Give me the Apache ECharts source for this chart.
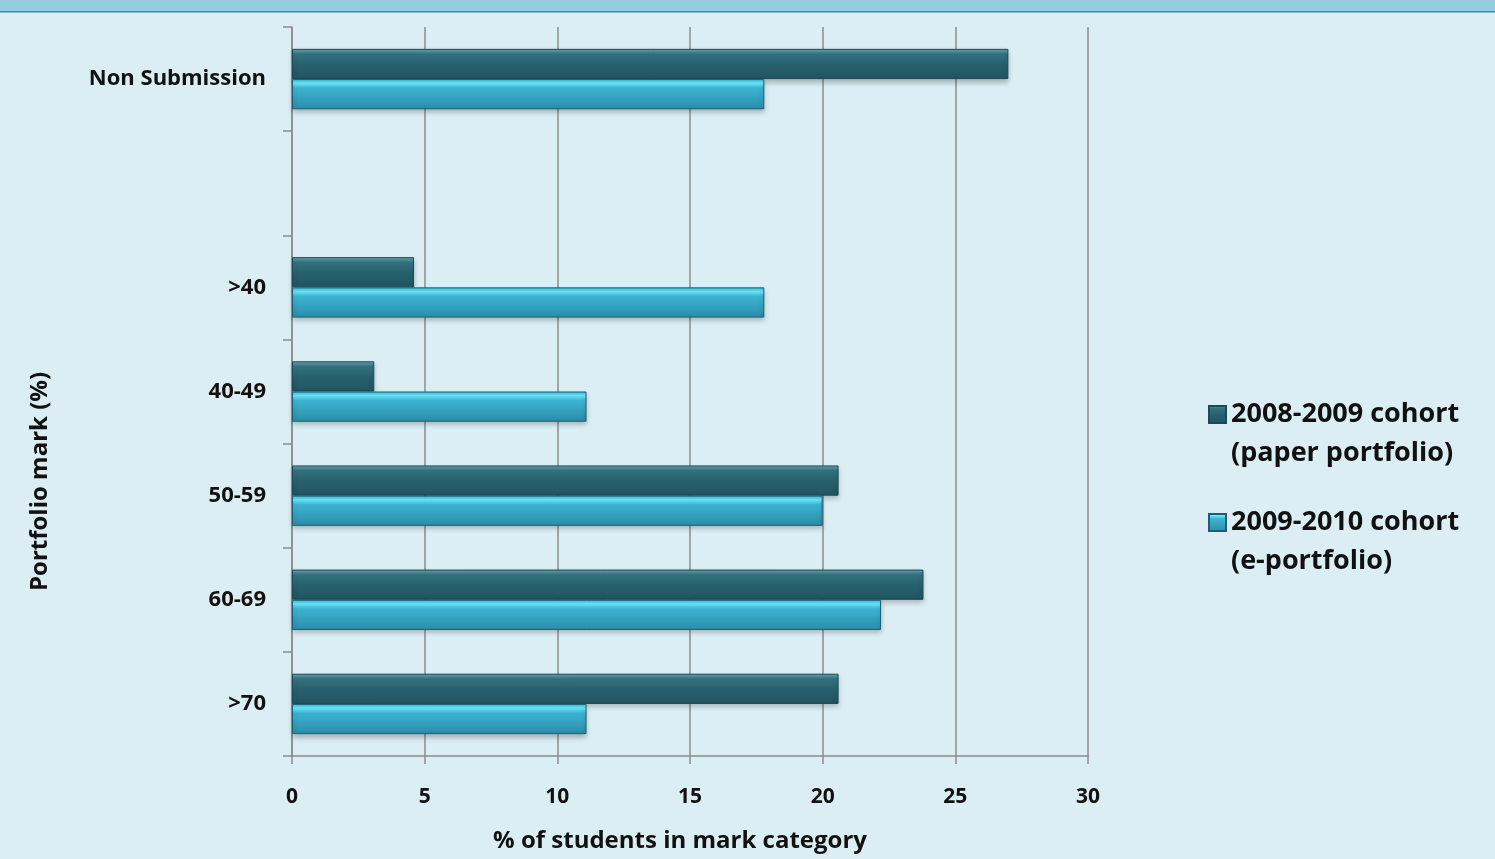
<!DOCTYPE html>
<html><head><meta charset="utf-8">
<script src="https://cdn.jsdelivr.net/npm/echarts@6/dist/echarts.min.js"></script>
<style>html,body{margin:0;padding:0;background:#dbeef4}#c{width:1495px;height:859px}</style>
</head><body><div id="c"></div>
<script>
const categories = ['>70', '60-69', '50-59', '40-49', '>40', '', 'Non Submission'];
const paper = [20.6, 23.8, 20.6, 3.1, 4.6, null, 27.0];
const eport = [11.1, 22.2, 20.0, 11.1, 17.8, null, 17.8];
const xTicks = [0, 5, 10, 15, 20, 25, 30];
const nameA = '2008-2009 cohort\n(paper portfolio)';
const nameB = '2009-2010 cohort\n(e-portfolio)';

const FONT = 'Open Sans';
const darkGrad = new echarts.graphic.LinearGradient(0, 0, 0, 1, [
  {offset: 0, color: '#6aa6b3'}, {offset: 0.18, color: '#34727f'},
  {offset: 0.5, color: '#27616d'}, {offset: 1, color: '#1f5561'}]);
const lightGrad = new echarts.graphic.LinearGradient(0, 0, 0, 1, [
  {offset: 0, color: '#3fb5d0'}, {offset: 0.14, color: '#6aeaff'},
  {offset: 0.3, color: '#3cb3d2'}, {offset: 1, color: '#2a8ca8'}]);

const chart = echarts.init(document.getElementById('c'));
const legendBase = {
  orient: 'vertical', left: 1203, itemWidth: 17, itemHeight: 17,
  icon: 'rect', selectedMode: false,
  formatter: n => ' \n' + n,
  textStyle: {fontFamily: FONT, fontWeight: 'bold', fontSize: 27, color: '#111', lineHeight: 39}
};
chart.setOption({
  backgroundColor: '#dbeef4',
  animation: false,
  graphic: [
    {type: 'rect', shape: {x: 0, y: 0, width: 1495, height: 11}, style: {fill: '#94cddf'}},
    {type: 'rect', shape: {x: 0, y: 11, width: 1495, height: 1.5}, style: {fill: '#3d8ea4'}}
  ],
  grid: {left: 292, right: 407, top: 27, bottom: 103},
  legend: [
    Object.assign({}, legendBase, {data: [nameA], top: 351}),
    Object.assign({}, legendBase, {data: [nameB], top: 459})
  ],
  xAxis: {
    type: 'value', min: 0, max: 30, interval: 5,
    name: '% of students in mark category', nameLocation: 'middle', nameGap: 73,
    nameTextStyle: {fontFamily: FONT, fontWeight: 'bold', fontSize: 24, color: '#111', padding: [0, 20, 0, 0]},
    axisLine: {show: true, lineStyle: {color: '#8c8c8c', width: 1.5}},
    axisTick: {show: true, length: 8, lineStyle: {color: '#8c8c8c', width: 1.5}},
    splitLine: {show: true, lineStyle: {color: '#8c8c8c', width: 1.5}},
    axisLabel: {margin: 31, fontFamily: FONT, fontWeight: 'bold', fontSize: 21, color: '#111',
      formatter: v => xTicks.includes(v) ? String(v) : ''}
  },
  yAxis: {
    type: 'category', data: categories,
    name: 'Portfolio mark (%)', nameLocation: 'middle', nameGap: 240, nameRotate: 90,
    nameTextStyle: {fontFamily: FONT, fontWeight: 'bold', fontSize: 24, color: '#111', padding: [0, 180, 0, 0]},
    axisLine: {show: true, lineStyle: {color: '#8c8c8c', width: 1.5}},
    axisTick: {show: true, length: 9, lineStyle: {color: '#8c8c8c', width: 1.5}},
    axisLabel: {margin: 26, fontFamily: FONT, fontWeight: 'bold', fontSize: 22, color: '#111'}
  },
  series: [
    {name: nameA, type: 'bar', data: paper, barGap: '0%', barCategoryGap: '42%',
      itemStyle: {color: darkGrad, borderColor: '#1b4a55', borderWidth: 1,
        shadowBlur: 5, shadowOffsetY: 3, shadowColor: 'rgba(0,0,0,0.25)'}},
    {name: nameB, type: 'bar', data: eport, barGap: '0%', barCategoryGap: '42%',
      itemStyle: {color: lightGrad, borderColor: '#1d5e70', borderWidth: 1,
        shadowBlur: 5, shadowOffsetY: 3, shadowColor: 'rgba(0,0,0,0.25)'}}
  ]
});
</script></body></html>
